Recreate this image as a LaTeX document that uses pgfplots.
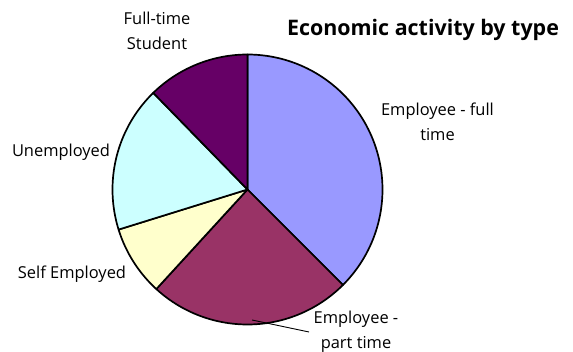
\documentclass[border=0pt]{standalone}
\usepackage{fontspec}
\setmainfont{Open Sans}
\usepackage{pgfplots}
\usepackage{pgfplotstable}
\pgfplotsset{compat=1.18}
\definecolor{cFT}{HTML}{9999FF}
\definecolor{cPT}{HTML}{993366}
\definecolor{cSE}{HTML}{FFFFCC}
\definecolor{cUN}{HTML}{CCFFFF}
\definecolor{cST}{HTML}{660066}
\pgfplotstableread{
label value
FT 37.5
PT 24.3
SE 8.4
UN 17.5
ST 12.3
}\piedata
\pgfplotstablegetelem{0}{value}\of\piedata \let\vA\pgfplotsretval
\pgfplotstablegetelem{1}{value}\of\piedata \let\vB\pgfplotsretval
\pgfplotstablegetelem{2}{value}\of\piedata \let\vC\pgfplotsretval
\pgfplotstablegetelem{3}{value}\of\piedata \let\vD\pgfplotsretval
\pgfplotstablegetelem{4}{value}\of\piedata \let\vE\pgfplotsretval
\pgfmathsetmacro\aA{90}
\pgfmathsetmacro\aB{\aA-3.6*\vA}
\pgfmathsetmacro\aC{\aB-3.6*\vB}
\pgfmathsetmacro\aD{\aC-3.6*\vC}
\pgfmathsetmacro\aE{\aD-3.6*\vD}
\pgfmathsetmacro\aF{\aE-3.6*\vE}
\def\cx{247.5}
\def\cy{-189.5}
\def\R{135}
\begin{document}
\begin{tikzpicture}
\useasboundingbox (0,0) rectangle (573bp,352bp);
\begin{axis}[
  at={(0,0)}, anchor=south west,
  width=573bp, height=352bp, scale only axis,
  xmin=0, xmax=573, ymin=-352, ymax=0,
  hide axis, clip=false,
  every axis plot/.append style={draw=black, line width=1.7bp, line join=round},
]
\addplot[fill=cFT, domain=\aB:\aA, samples=120, variable=\t] ({\cx+\R*cos(\t)},{\cy+\R*sin(\t)}) -- (axis cs:\cx,\cy) -- cycle;
\addplot[fill=cPT, domain=\aC:\aB, samples=100, variable=\t] ({\cx+\R*cos(\t)},{\cy+\R*sin(\t)}) -- (axis cs:\cx,\cy) -- cycle;
\addplot[fill=cSE, domain=\aD:\aC, samples=60, variable=\t] ({\cx+\R*cos(\t)},{\cy+\R*sin(\t)}) -- (axis cs:\cx,\cy) -- cycle;
\addplot[fill=cUN, domain=\aE:\aD, samples=80, variable=\t] ({\cx+\R*cos(\t)},{\cy+\R*sin(\t)}) -- (axis cs:\cx,\cy) -- cycle;
\addplot[fill=cST, domain=\aF:\aE, samples=60, variable=\t] ({\cx+\R*cos(\t)},{\cy+\R*sin(\t)}) -- (axis cs:\cx,\cy) -- cycle;
\draw[black, line width=0.9bp] (axis cs:252,-320) -- (axis cs:309,-332);
\begin{scope}[every node/.style={font=\fontsize{16.5}{25}\selectfont, align=center, inner sep=0pt}]
\node at (axis cs:157,-31) {Full-time\\Student};
\node at (axis cs:437.5,-122) {Employee - full\\time};
\node at (axis cs:61,-152) {Unemployed};
\node at (axis cs:72,-274) {Self Employed};
\node at (axis cs:356,-332) {Employee -\\part time};
\end{scope}
\node[font=\fontsize{21.5}{24}\selectfont\bfseries, inner sep=0pt] at (axis cs:423,-30) {Economic activity by type};
\end{axis}
\end{tikzpicture}
\end{document}
